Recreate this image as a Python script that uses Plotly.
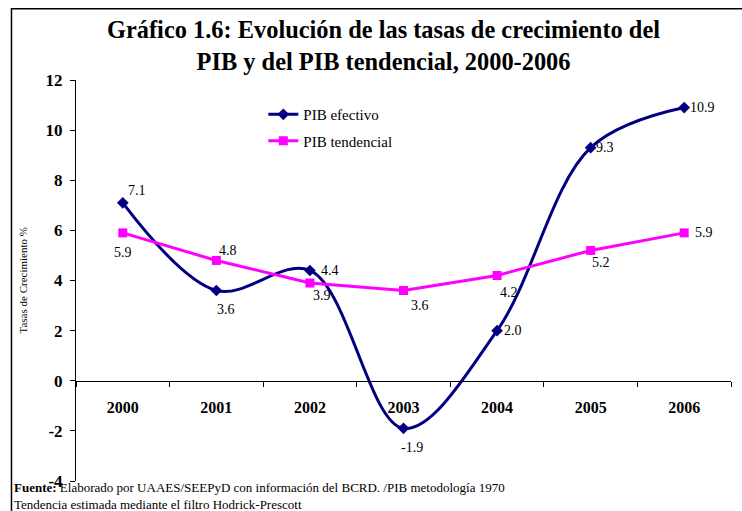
import plotly.graph_objects as go

years = ["2000", "2001", "2002", "2003", "2004", "2005", "2006"]
pib_efectivo = [7.1, 3.6, 4.4, -1.9, 2.0, 9.3, 10.9]
pib_tendencial = [5.9, 4.8, 3.9, 3.6, 4.2, 5.2, 5.9]
y_ticks = [-4, -2, 0, 2, 4, 6, 8, 10, 12]

# label offsets (px) for data labels
ef_shift = [(14, 12), (10, -19), (20, 0), (8, -19), (16, 0), (14, 0), (18, 0)]
td_shift = [(0, -20), (12, 10), (12, -12), (16, -15), (12, -17), (10, -12), (20, 0)]

font = "Liberation Serif"

fig = go.Figure()
fig.add_trace(go.Scatter(
    x=years, y=pib_efectivo, name="PIB efectivo", mode="lines+markers",
    legendgroup="a",
    line=dict(color="#000080", width=3, shape="spline", smoothing=1.0),
    marker=dict(symbol="diamond", size=9, color="#000080"),
))
fig.add_trace(go.Scatter(
    x=years, y=pib_tendencial, name="PIB tendencial", mode="lines+markers",
    legendgroup="b",
    line=dict(color="#FF00FF", width=3),
    marker=dict(symbol="square", size=9, color="#FF00FF"),
))

for i, v in enumerate(pib_efectivo):
    fig.add_annotation(x=i, y=v, text=f"{v:.1f}", showarrow=False,
                       xshift=ef_shift[i][0], yshift=ef_shift[i][1],
                       font=dict(family=font, size=14, color="black"))
for i, v in enumerate(pib_tendencial):
    fig.add_annotation(x=i, y=v, text=f"{v:.1f}", showarrow=False,
                       xshift=td_shift[i][0], yshift=td_shift[i][1],
                       font=dict(family=font, size=14, color="black"))

fig.add_annotation(
    xref="paper", yref="paper", x=0.470, y=1.165, yanchor="top", xanchor="center",
    text="<b>Gráfico 1.6: Evolución de las tasas de crecimiento del<br>PIB y del PIB tendencial, 2000-2006</b>",
    showarrow=False, font=dict(family=font, size=24.4, color="black"))

fig.add_annotation(
    xref="paper", yref="paper", x=-0.0824, y=0.5, textangle=-90,
    xanchor="center", yanchor="middle",
    text="Tasas de Crecimiento %", showarrow=False,
    font=dict(family=font, size=11, color="black"))

fig.add_annotation(
    xref="paper", yref="paper", x=-0.097, y=0.008, xanchor="left", yanchor="top", align="left",
    text="<b>Fuente:</b> Elaborado por UAAES/SEEPyD con información del BCRD. /PIB metodología 1970<br>Tendencia estimada mediante el filtro Hodrick-Prescott",
    showarrow=False, font=dict(family=font, size=13, color="black"))

# outer border
fig.add_shape(type="rect", xref="paper", yref="paper",
              x0=-0.0985, x1=1.05, y0=-0.2, y1=1.1775,
              line=dict(color="black", width=1.5))

fig.update_layout(
    width=742, height=511,
    margin=dict(l=76, r=11, t=80, b=30),
    paper_bgcolor="white", plot_bgcolor="white",
    font=dict(family=font, color="black"),
    legend=dict(x=0.286, y=0.955, xanchor="left", yanchor="top",
                bgcolor="rgba(0,0,0,0)", font=dict(family=font, size=15),
                tracegroupgap=4, itemwidth=30),
    xaxis=dict(type="category", range=[-0.5, 6.5], anchor="free", position=0.25,
               showline=True, linecolor="black", linewidth=1,
               ticks="outside", tickson="boundaries", ticklen=5, tickcolor="black",
               ticklabelstandoff=12, showgrid=False, zeroline=False,
               tickvals=years, ticktext=[f"<b>{y}</b>" for y in years],
               tickfont=dict(family=font, size=16, color="black")),
    yaxis=dict(range=[-4, 12], tickvals=y_ticks,
               ticktext=[f"<b>{t}</b>" for t in y_ticks],
               showline=True, linecolor="black",
               linewidth=1, ticks="outside", ticklen=5, tickcolor="black",
               ticklabelstandoff=4,
               showgrid=False, zeroline=False,
               tickfont=dict(family=font, size=17, color="black")),
)

fig.write_html("out.html", config={"displayModeBar": False},
               post_script="document.body.style.margin='0';")
